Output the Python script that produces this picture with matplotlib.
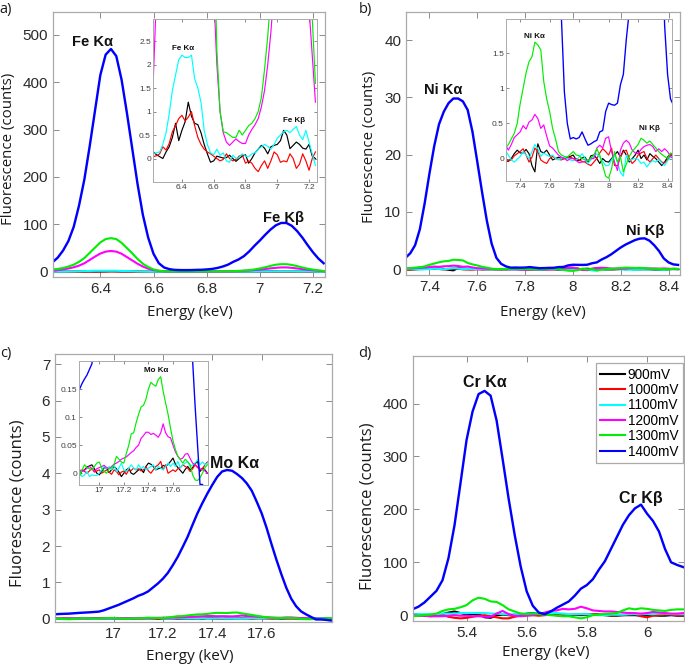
import numpy as np
import matplotlib
matplotlib.use("Agg")
import matplotlib.pyplot as plt
from matplotlib.ticker import FuncFormatter

# ---------------- data ----------------
series_labels = ["900mV", "1000mV", "1100mV", "1200mV", "1300mV", "1400mV"]
series_colors = ["#000000", "#ff0000", "#00ffff", "#ff00ff", "#00ee00", "#0000ff"]

# Panel a: Fe  (energy grid 6.22 .. 7.24 keV, step 0.02)
energy_a = np.round(np.arange(6.22, 7.2401, 0.02), 2)
fe_900 = [0.14, 0.08, 0.04, 0.0, 0.14, 0.25, 0.45, 0.75, 0.38, 0.6,
          0.78, 1.2, 0.9, 0.75, 0.72, 0.55, 0.3, 0.1, -0.08, -0.05,
          0.05, 0.03, 0.01, 0.02, 0.07, 0.0, -0.06, 0.0, 0.05, 0.08,
          -0.1, 0.0, 0.12, 0.2, 0.28, 0.22, 0.1, 0.25, 0.28, 0.3,
          0.38, 0.6, 0.5, 0.21, 0.28, 0.35, 0.3, 0.22, 0.2, 0.3,
          0.05, 0.0]
fe_1000 = [0.04, 0.06, 0.1, 0.25, 0.18, 0.32, 0.57, 0.7, 0.85, 0.92,
           0.8, 0.88, 1.0, 0.7, 0.45, 0.3, 0.2, 0.14, 0.1, 0.05,
           0.0, -0.05, -0.02, 0.1, 0.0, -0.05, -0.02, 0.05, 0.08, -0.1,
           -0.05, -0.1, -0.21, -0.28, -0.15, -0.05, -0.21, -0.05, 0.14, 0.08,
           -0.08, -0.05, -0.07, 0.1, 0.0, -0.21, -0.12, 0.1, -0.05, -0.25,
           0.0, 0.14]
fe_1100 = [0.11, 0.12, 0.14, 0.3, 0.55, 0.95, 1.45, 1.78, 2.1, 2.2,
           2.15, 2.15, 2.2, 1.7, 1.5, 1.2, 0.6, 0.3, 0.12, 0.08,
           0.2, 0.07, 0.12, -0.05, -0.08, 0.07, 0.0, 0.02, 0.1, 0.05,
           0.04, 0.1, 0.12, 0.2, 0.25, 0.3, 0.26, 0.2, 0.3, 0.43,
           0.5, 0.57, 0.6, 0.55, 0.62, 0.68, 0.5, 0.4, 0.6, 0.35,
           0.1, -0.15]
fe_1200 = [1.7, 3.5, 5, 7, 9.5, 13, 18, 25, 32, 38.5,
           42.5, 44, 42.5, 38, 31, 24, 17, 11, 6.5, 3.5,
           2.0, 1.0, 0.55, 0.35, 0.28, 0.35, 0.42, 0.36, 0.32, 0.32,
           0.5, 0.62, 0.72, 0.85, 1.1, 1.45, 2.0, 2.7, 3.6, 4.6,
           5.8, 7.2, 8.4, 9.2, 9.2, 8.4, 7, 5.6, 4.3, 3.2,
           2.2, 1.2]
fe_1300 = [5, 6, 8, 11, 15, 21, 29, 40, 51, 62,
           69, 71, 69, 61, 50, 39, 27, 17, 10, 5,
           2.3, 1.0, 0.57, 0.55, 0.5, 0.45, 0.45, 0.6, 0.5, 0.6,
           0.7, 0.75, 0.85, 1.0, 1.3, 1.9, 2.6, 3.5, 5, 7,
           9.5, 12.5, 15, 16, 16, 14.5, 12, 9, 6.5, 4.5,
           3, 1.6]
fe_1400 = [20, 30, 45, 65, 95, 140, 195, 265, 340, 415,
           458, 470, 455, 405, 335, 260, 185, 120, 72, 38,
           18, 9, 5.5, 4, 3.6, 3.5, 3.6, 4, 4.2, 5,
           6, 8, 11, 15, 21, 26, 33, 43, 55, 66,
           78, 89, 98, 103, 103, 97, 86, 72, 56, 41,
           28, 18]

# Panel b: Ni  (energy grid 7.30 .. 8.44 keV, step 0.02)
energy_b = np.round(np.arange(7.30, 8.4401, 0.02), 2)
ni_900 = [-0.03, -0.04, 0.0, 0.07, 0.12, 0.08, 0.08, 0.13, 0.07, -0.1,
          -0.19, 0.21, 0.1, 0.08, 0.12, 0.05, -0.02, 0.0, 0.02, 0.0,
          0.0, 0.02, 0.03, 0.05, -0.02, -0.03, 0.01, 0.02, -0.05, 0.04,
          0.05, 0.0, -0.07, 0.0, -0.04, -0.05, 0.0, 0.05, 0.1, 0.02,
          0.12, 0.05, -0.05, 0.0, 0.05, 0.12, 0.0, 0.05, -0.02, 0.07,
          0.03, 0.0, -0.05, -0.1, -0.05, 0.02, 0.07, 0.05]
ni_1000 = [0.0, -0.03, -0.02, 0.04, 0.07, 0.1, 0.14, 0.05, -0.05, 0.02,
           0.15, 0.1, -0.02, -0.05, -0.07, 0.0, 0.03, 0.0, -0.01, -0.02,
           0.0, 0.0, 0.02, 0.0, 0.0, -0.02, -0.04, -0.05, -0.08, -0.1,
           -0.05, 0.0, 0.08, 0.14, 0.1, 0.05, 0.15, -0.1, -0.1, 0.02,
           0.1, 0.12, 0.0, -0.07, -0.03, 0.05, 0.08, 0.1, 0.0, -0.05,
           0.0, 0.05, 0.0, -0.05, -0.06, -0.02, 0.05, 0.03]
ni_1100 = [0.12, 0.05, -0.02, -0.05, -0.01, 0.03, 0.1, 0.05, 0.0, 0.1,
           0.2, 0.14, 0.03, 0.08, 0.05, 0.03, 0.05, 0.0, -0.02, 0.0,
           0.02, 0.0, -0.02, -0.03, -0.02, 0.02, 0.07, 0.0, -0.07, -0.02,
           0.03, 0.07, 0.02, -0.04, -0.1, -0.1, -0.02, 0.05, -0.05, -0.2,
           -0.25, 0.05, -0.03, -0.01, 0.0, -0.01, -0.07, -0.05, -0.12, -0.06,
           -0.03, -0.05, -0.01, -0.06, -0.1, -0.03, 0.02, 0.0]
ni_1200 = [0.2, 0.12, 0.2, 0.3, 0.34, 0.38, 0.47, 0.42, 0.52, 0.55,
           0.63, 0.57, 0.43, 0.48, 0.32, 0.18, 0.15, 0.1, 0.05, 0.02,
           0.0, -0.03, 0.0, 0.0, -0.03, -0.06, -0.05, -0.04, -0.02, 0.0,
           0.0, 0.15, 0.19, 0.15, 0.29, 0.31, 0.1, -0.05, -0.17, 0.12,
           0.22, 0.26, 0.22, 0.12, 0.08, 0.07, 0.13, 0.17, 0.19, 0.2,
           0.17, 0.1, 0.14, 0.1, 0.14, 0.1, 0.03, 0.0]
ni_1300 = [0.15, 0.2, 0.28, 0.36, 0.5, 0.78, 1.0, 1.22, 1.38, 1.45,
           1.66, 1.62, 1.55, 1.1, 0.85, 0.67, 0.43, 0.28, 0.1, 0.05,
           0.03, 0.02, 0.06, 0.1, 0.05, 0.04, 0.0, -0.02, -0.03, 0.01,
           0.05, 0.14, 0.05, -0.1, -0.25, -0.28, -0.15, 0.1, -0.05, 0.03,
           -0.19, -0.08, 0.03, 0.1, 0.15, 0.2, 0.29, 0.26, 0.22, 0.25,
           0.2, 0.15, 0.1, 0.06, 0.03, 0.0, 0.08, 0.05]
ni_1400 = [2.0, 2.8, 4.2, 7.0, 11.5, 16.7, 21.5, 25.3, 27.5, 29.0,
           29.8, 29.8, 29.3, 27.8, 24.0, 18.8, 13.5, 8.5, 4.5, 2.0,
           0.95, 0.5, 0.28, 0.3, 0.28, 0.3, 0.38, 0.28, 0.19, 0.21,
           0.24, 0.26, 0.38, 0.4, 0.67, 0.79, 0.77, 0.76, 0.79, 1.05,
           1.2, 1.7, 2.1, 2.6, 3.2, 3.8, 4.3, 4.7, 5.1, 5.35,
           5.4, 5.0, 4.2, 3.2, 1.9, 1.2, 0.85, 0.76]

# Panel c: Mo  (energy grid 16.76 .. 17.88 keV, step 0.02)
energy_c = np.round(np.arange(16.76, 17.8801, 0.02), 2)
mo_900 = [0.002, -0.002, 0.004, 0.002, -0.003, 0.004, 0.006, 0.011, 0.013, 0.015,
          0.008, 0.0, -0.003, 0.003, 0.01, 0.009, 0.001, 0.006, 0.012, 0.008,
          0.002, -0.006, 0.0, 0.006, 0.009, 0.0, -0.002, 0.002, 0.006, 0.008,
          0.001, 0.012, 0.018, 0.016, 0.012, 0.006, 0.008, 0.009, 0.014, 0.012,
          0.016, 0.021, 0.027, 0.016, 0.01, 0.005, 0.0, 0.007, 0.012, 0.006,
          0.01, 0.017, 0.021, 0.003, 0.009, 0.006, 0.0]
mo_1000 = [0.0, 0.003, 0.006, 0.0, 0.003, 0.006, 0.003, 0.0, 0.004, 0.009,
           0.002, 0.004, 0.006, 0.0, 0.003, 0.006, 0.002, -0.002, 0.006, 0.003,
           -0.003, 0.002, 0.004, -0.002, 0.006, 0.005, 0.009, 0.006, 0.008, 0.004,
           0.006, 0.012, 0.004, 0.0, 0.006, 0.012, 0.015, 0.021, 0.006, 0.015,
           0.0, 0.003, 0.006, 0.003, 0.008, 0.01, 0.015, 0.012, 0.009, 0.003,
           0.008, 0.015, 0.01, 0.006, 0.008, 0.015, 0.02]
mo_1100 = [0.006, 0.003, 0.0, 0.006, 0.001, -0.006, -0.003, 0.003, -0.006, -0.003,
           -0.004, -0.004, 0.0, 0.006, 0.012, 0.008, 0.012, 0.006, 0.015, 0.003,
           0.009, 0.018, 0.006, 0.003, 0.009, 0.015, 0.009, 0.006, 0.015, 0.008,
           0.012, 0.006, 0.009, 0.012, 0.015, 0.006, 0.012, 0.009, 0.006, 0.012,
           0.018, 0.012, 0.018, 0.012, 0.021, 0.01, 0.015, 0.018, 0.021, 0.012,
           0.015, 0.018, 0.024, 0.015, 0.02, 0.015, 0.018]
mo_1200 = [0.01, 0.006, 0.004, 0.008, 0.006, 0.003, 0.005, 0.009, 0.012, 0.008,
           0.004, 0.008, 0.01, 0.012, 0.014, 0.01, 0.008, 0.012, 0.016, 0.018,
           0.021, 0.025, 0.027, 0.029, 0.033, 0.037, 0.04, 0.046, 0.05, 0.062,
           0.067, 0.073, 0.073, 0.069, 0.071, 0.068, 0.064, 0.072, 0.088, 0.072,
           0.065, 0.063, 0.05, 0.038, 0.03, 0.025, 0.027, 0.034, 0.035, 0.026,
           0.018, 0.015, 0.012, 0.008, 0.006, 0.004, 0.0]
mo_1300 = [-0.01, 0.0, -0.01, -0.015, -0.005, 0.006, 0.015, 0.01, 0.008, 0.006,
           0.012, 0.018, 0.02, 0.009, 0.003, 0.0, 0.008, 0.01, 0.015, 0.03,
           0.025, 0.02, 0.018, 0.035, 0.05, 0.07, 0.072, 0.09, 0.105, 0.118,
           0.121, 0.132, 0.15, 0.162, 0.158, 0.155, 0.167, 0.172, 0.146, 0.125,
           0.105, 0.08, 0.058, 0.042, 0.03, 0.024, 0.018, 0.025, 0.02, 0.015,
           -0.003, -0.012, -0.013, -0.008, 0.0, 0.01, 0.015]
mo_1400 = [0.12, 0.13, 0.135, 0.14, 0.15, 0.16, 0.168, 0.175, 0.185, 0.195,
           0.23, 0.28, 0.33, 0.38, 0.44, 0.5, 0.56, 0.63, 0.68, 0.75,
           0.86, 0.97, 1.1, 1.26, 1.47, 1.7, 1.97, 2.25, 2.58, 2.9,
           3.18, 3.44, 3.68, 3.9, 4.05, 4.09, 4.07, 3.98, 3.87, 3.72,
           3.52, 3.22, 2.9, 2.5, 2.05, 1.62, 1.22, 0.85, 0.55, 0.34,
           0.2, 0.12, 0.05, -0.02, -0.02, -0.03, -0.05]

# Panel d: Cr  (energy grid 5.22 .. 6.12 keV, step 0.02)
energy_d = np.round(np.arange(5.22, 6.1201, 0.02), 2)
cr_900 = [1, 0, -1, 0, 1, 2, 5, 7, 4, 1,
          2, 2, -4, -5, 0, 1, 0, -1, 0, 3,
          4, 3, 2, 1, 0, -1, 0, 1, 0, 1,
          2, 1, 0, -1, -1, 0, 0, 0, -1, 0,
          0, -1, -1, 0, -1, -1]
cr_1000 = [3, 1, -1, -2, -1, 0, -3, -5, -6, -5,
           -3, -1, 0, -2, -4, -6, -6, -3, -1, 0,
           0, -1, 0, 1, 2, 1, 0, 1, 2, 1,
           2, 1, 1, 0, 0, 0, 1, 2, -2, -4,
           -1, 0, 1, 1, 0, 0]
cr_1100 = [2, 2, 2, 2, 2, 3, 3, 3, 4, 4,
           4, 4, 4, 3, 3, 2, 1, 2, 3, 3,
           3, 4, 4, 4, 4, 3, 2, 2, 2, 2,
           1, 0, 0, 1, 1, 1, 2, 2, 2, 2,
           2, 3, 3, 2, 2, 2]
cr_1200 = [0, -1, -1, -2, -2, -2, -1, 0, -1, -1,
           -2, -2, -3, -3, 3, 8, 2, -1, -2, -1,
           0, 2, 5, 8, 9, 12, 11, 12, 16, 13,
           9, 8, 7, 7, 6, 5, 4, 4, 3, 4,
           6, 5, 4, 3, 3, 4]
cr_1300 = [-2, -1, 0, 1, 3, 8, 11, 12, 15, 19,
           28, 33, 31, 26, 25, 19, 11, 7, 3, 2,
           3, 2, 1, 0, -1, -2, -2, -4, -6, -4,
           0, 1, 2, 3, 4, 9, 13, 11, 13, 12,
           10, 9, 8, 10, 11, 11]
cr_1400 = [11, 16, 24, 35, 46, 66, 108, 170, 250, 331,
           385, 418, 424, 415, 368, 295, 220, 152, 92, 45,
           18, 5, 2, 7, 14, 20, 26, 37, 50, 57,
           68, 86, 102, 125, 148, 171, 189, 202, 209, 192,
           178, 158, 125, 100, 95, 91]

fe_series = [fe_900, fe_1000, fe_1100, fe_1200, fe_1300, fe_1400]
ni_series = [ni_900, ni_1000, ni_1100, ni_1200, ni_1300, ni_1400]
mo_series = [mo_900, mo_1000, mo_1100, mo_1200, mo_1300, mo_1400]
cr_series = [cr_900, cr_1000, cr_1100, cr_1200, cr_1300, cr_1400]

# ---------------- figure ----------------
W, H = 685, 666
fig = plt.figure(figsize=(W / 100, H / 100), dpi=100)

TICK_FONT = "Liberation Sans"
LABEL_FONT = "Open Sans"
SPINE = "#aaaaaa"
fmt = FuncFormatter(lambda v, p: f"{v:g}")


def add_ax(l, t, r, b):
    return fig.add_axes([l / W, 1 - b / H, (r - l) / W, (b - t) / H])


def style(ax, size, length, inset=False):
    ax.tick_params(direction="in", top=True, right=True, length=length,
                   width=0.6, color="#777777", labelsize=size,
                   labelcolor="#404040" if inset else "#2a2a2a",
                   pad=1.5 if inset else 3.5)
    for lab in ax.get_xticklabels() + ax.get_yticklabels():
        lab.set_fontfamily(TICK_FONT)
    for s in ax.spines.values():
        s.set_color(SPINE)
        s.set_linewidth(0.9 if not inset else 0.7)
    ax.xaxis.set_major_formatter(fmt)
    ax.yaxis.set_major_formatter(fmt)


def draw(ax, x, ys, lw, labels=False):
    for y, c, lab in zip(ys, series_colors, series_labels):
        ax.plot(x, y, color=c, lw=lw * (1.15 if c == "#0000ff" else 1.0),
                label=lab if labels else None)


def panel(box, inset_box, x, ys, xlim, ylim, xticks, yticks,
          ixlim, iylim, ixticks, iyticks, main_size, legend=False):
    ax = add_ax(*box)
    draw(ax, x, ys, 1.5, labels=legend)
    ax.set_xlim(*xlim)
    ax.set_ylim(*ylim)
    ax.set_xticks(xticks)
    ax.set_yticks(yticks)
    style(ax, main_size, 4)
    ins = None
    if inset_box is not None:
        ins = add_ax(*inset_box)
        draw(ins, x, ys, 0.85)
        ins.set_xlim(*ixlim)
        ins.set_ylim(*iylim)
        ins.set_xticks(ixticks)
        ins.set_yticks(iyticks)
        style(ins, 6, 2.5, inset=True)
    return ax, ins


# panel a
ax_a, in_a = panel((53, 12, 325, 277), (153, 19, 317, 182), energy_a, fe_series,
                   (6.222, 7.245), (-11, 548), [6.4, 6.6, 6.8, 7.0, 7.2],
                   [0, 100, 200, 300, 400, 500],
                   (6.218, 7.25), (-0.5, 2.97), [6.4, 6.6, 6.8, 7.0, 7.2],
                   [0, 0.5, 1, 1.5, 2, 2.5], 11)
# panel b
ax_b, in_b = panel((406, 12, 680, 275), (506, 19, 672, 181), energy_b, ni_series,
                   (7.302, 8.448), (-1, 44.9), [7.4, 7.6, 7.8, 8.0, 8.2, 8.4],
                   [0, 10, 20, 30, 40],
                   (7.304, 8.43), (-0.32, 1.99), [7.4, 7.6, 7.8, 8.0, 8.2, 8.4],
                   [0, 0.5, 1, 1.5], 11)
# panel c
ax_c, in_c = panel((55, 354, 332, 622), (79, 361, 208, 485), energy_c, mo_series,
                   (16.763, 17.885), (-0.09, 7.28), [17.0, 17.2, 17.4, 17.6],
                   [0, 1, 2, 3, 4, 5, 6, 7],
                   (16.835, 17.885), (-0.021, 0.2), [17.0, 17.2, 17.4, 17.6],
                   [0, 0.05, 0.1, 0.15], 11)
# panel d
ax_d, _ = panel((413, 356, 684, 621), None, energy_d, cr_series,
                (5.222, 6.123), (-11, 490), [5.4, 5.6, 5.8, 6.0],
                [0, 100, 200, 300, 400], None, None, None, None, 11, legend=True)

leg = ax_d.legend(loc="upper right", bbox_to_anchor=(683 / W, 1 - 363 / H),
                  bbox_transform=fig.transFigure, borderaxespad=0,
                  prop={"family": TICK_FONT, "size": 9.8}, handlelength=1.8,
                  handletextpad=0.2, labelspacing=0.1, borderpad=0.35,
                  fancybox=False, framealpha=1)
leg.get_frame().set_edgecolor(SPINE)
leg.get_frame().set_linewidth(0.9)
for ln in leg.get_lines():
    ln.set_linewidth(1.5)

# peak annotations
def note(ax, x, y, s, size):
    ax.text(x, y, s, ha="center", va="center", fontsize=size,
            fontweight="bold", family=TICK_FONT, color="#111111")

note(ax_a, 6.37, 485, "Fe Kα", 10.5)
note(ax_a, 7.09, 113, "Fe Kβ", 10.5)
note(in_a, 6.41, 2.35, "Fe Kα", 5.8)
note(in_a, 7.105, 0.8, "Fe Kβ", 5.8)
note(ax_b, 7.458, 31.2, "Ni Kα", 10.5)
note(ax_b, 8.304, 6.6, "Ni Kβ", 10.5)
note(in_b, 7.499, 1.74, "Ni Kα", 5.8)
note(in_b, 8.275, 0.43, "Ni Kβ", 5.8)
note(ax_c, 17.49, 4.27, "Mo Kα", 11.5)
note(in_c, 17.466, 0.183, "Mo Kα", 5.8)
note(ax_d, 5.461, 439, "Cr Kα", 11.5)
note(ax_d, 5.978, 220, "Cr Kβ", 11.5)

# axis labels and panel letters (figure text, pixel placed)
def ftext(x, y, s, size, rot=0):
    fig.text(x / W, 1 - y / H, s, ha="center", va="center", rotation=rot,
             fontsize=size, family=LABEL_FONT, color="#1a1a1a")

ftext(9, 149, "Fluorescence (counts)", 10.8, 90)
ftext(369, 147, "Fluorescence (counts)", 10.8, 90)
ftext(18, 503, "Fluorescence (counts)", 12, 90)
ftext(368, 506, "Fluorescence (counts)", 12, 90)
ftext(190, 312, "Energy (keV)", 10.8)
ftext(543, 312, "Energy (keV)", 10.8)
ftext(190, 656, "Energy (keV)", 11)
ftext(546, 653, "Energy (keV)", 11)
ftext(6, 10, "a)", 10.5)
ftext(365, 9, "b)", 10.5)
ftext(6, 354, "c)", 10.5)
ftext(365, 354, "d)", 10.5)

fig.savefig("out.png", dpi=100)
